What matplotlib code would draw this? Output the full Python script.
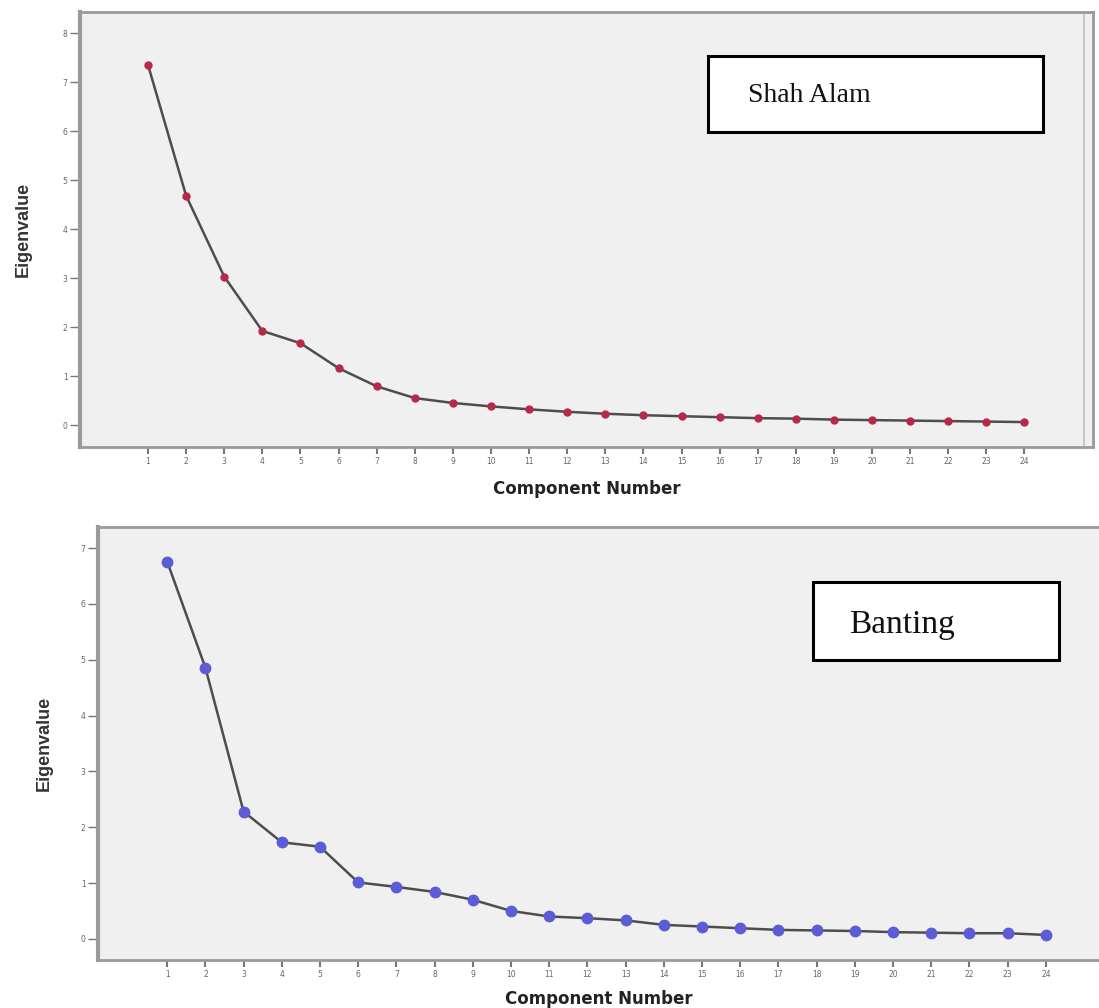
import matplotlib
matplotlib.use("Agg")
import matplotlib.pyplot as plt
from matplotlib.patches import Rectangle

# Scree plot data (eigenvalues per component)
components = list(range(1, 25))
shah_alam = [7.35, 4.68, 3.03, 1.92, 1.67, 1.16, 0.79, 0.55, 0.45, 0.38,
             0.32, 0.27, 0.23, 0.20, 0.18, 0.16, 0.14, 0.13, 0.11, 0.10,
             0.09, 0.08, 0.07, 0.06]
banting = [6.76, 4.86, 2.28, 1.73, 1.65, 1.01, 0.93, 0.84, 0.70, 0.50,
           0.40, 0.37, 0.33, 0.25, 0.22, 0.19, 0.16, 0.15, 0.14, 0.12,
           0.11, 0.10, 0.10, 0.07]
site_names = ["Shah Alam", "Banting"]

BG = "#f0f0f0"
SPINE = "#9a9a9a"
LINE = "#4d4d4d"

fig = plt.figure(figsize=(10.99, 10.08), dpi=100)
ax1 = fig.add_axes([0.0728, 0.5565, 0.9218, 0.4315])
ax2 = fig.add_axes([0.0892, 0.0476, 0.9118, 0.4296])


def style_axes(ax, ylim, xlim, ylab_x, xlab_y, right=True):
    ax.set_facecolor(BG)
    ax.set_xlim(*xlim)
    ax.set_ylim(*ylim)
    ax.set_xticks(components)
    ax.set_yticks(range(0, int(ylim[1]) + 1))
    ax.tick_params(axis="both", labelsize=5.5, labelcolor="#666666",
                   color="#777777", direction="out")
    ax.tick_params(axis="y", length=7, width=1, pad=2)
    ax.tick_params(axis="x", length=5, width=1.5, pad=2)
    ax.spines["left"].set_linewidth(3)
    ax.spines["bottom"].set_linewidth(2)
    ax.spines["top"].set_linewidth(2)
    ax.spines["right"].set_linewidth(2)
    for s in ax.spines.values():
        s.set_color(SPINE)
    ax.spines["right"].set_visible(right)
    ax.set_ylabel("Eigenvalue", fontsize=13, fontweight="bold",
                  family=["Liberation Sans Narrow", "Liberation Sans"],
                  color="#333333")
    ax.set_xlabel("Component Number", fontsize=12, fontweight="bold",
                  color="#222222")
    ax.yaxis.set_label_coords(ylab_x, 0.5)
    ax.xaxis.set_label_coords(0.5, xlab_y)


def add_box(ax, rect, text_xy, name, size):
    ax.add_patch(Rectangle((rect[0], rect[1]), rect[2] - rect[0], rect[3] - rect[1],
                           transform=ax.transAxes, facecolor="white",
                           edgecolor="black", linewidth=2.2, zorder=5))
    ax.text(text_xy[0], text_xy[1], name, transform=ax.transAxes,
            ha="left", va="center", fontsize=size, family="Liberation Serif",
            color="#111111", zorder=6)


# Top panel: Shah Alam
style_axes(ax1, (-0.45, 8.43), (-0.785, 25.8), -0.048, -0.076)
ax1.plot(components, shah_alam, color=LINE, linewidth=1.8, zorder=3)
ax1.plot(components, shah_alam, linestyle="none", marker="o", markersize=5,
         color="#b82848", markeredgecolor="#b82848", zorder=4)
add_box(ax1, (0.62, 0.724, 0.951, 0.899), (0.659, 0.809), site_names[0], 20)
ax1.axvline(25.55, color="#c8c8c8", linewidth=1.5)

# Bottom panel: Banting
style_axes(ax2, (-0.38, 7.38), (-0.81, 25.42), -0.045, -0.069, right=False)
ax2.plot(components, banting, color=LINE, linewidth=1.8, zorder=3)
ax2.plot(components, banting, linestyle="none", marker="o", markersize=7.5,
         color="#5c5cd6", markeredgecolor="#5c5cd6", zorder=4)
add_box(ax2, (0.713, 0.693, 0.959, 0.873), (0.749, 0.774), site_names[1], 24)

fig.savefig("out.png", dpi=100)
